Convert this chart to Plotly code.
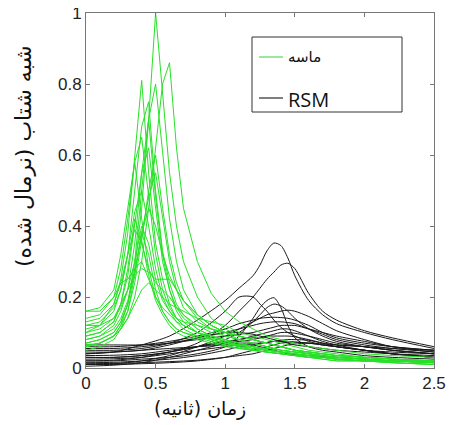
import plotly.graph_objects as go

# shared x grid (seconds) for the sand (green) curves
green_x = [0, 0.1, 0.2, 0.25, 0.3, 0.35, 0.4, 0.45, 0.5, 0.55, 0.6, 0.65, 0.7,
           0.8, 0.9, 1.0, 1.1, 1.2, 1.3, 1.4, 1.5, 1.6, 1.7, 1.8, 2.0, 2.2, 2.5]

g01 = [0.07,0.08,0.10,0.13,0.18,0.28,0.45,0.70,1.00,0.78,0.55,0.40,0.30,0.20,0.14,0.11,0.09,0.08,0.07,0.06,0.05,0.045,0.04,0.035,0.03,0.025,0.02]
g02 = [0.06,0.07,0.09,0.11,0.14,0.20,0.30,0.45,0.62,0.80,0.86,0.62,0.45,0.30,0.21,0.16,0.13,0.11,0.09,0.08,0.07,0.06,0.055,0.05,0.04,0.035,0.03]
g03 = [0.10,0.12,0.18,0.25,0.38,0.60,0.81,0.55,0.35,0.25,0.18,0.14,0.12,0.10,0.08,0.07,0.06,0.05,0.045,0.04,0.035,0.03,0.03,0.025,0.02,0.02,0.015]
g04 = [0.08,0.09,0.12,0.16,0.22,0.35,0.55,0.70,0.80,0.60,0.42,0.30,0.22,0.15,0.12,0.10,0.08,0.07,0.06,0.05,0.045,0.04,0.035,0.03,0.025,0.02,0.02]
g05 = [0.12,0.13,0.17,0.22,0.32,0.50,0.68,0.75,0.50,0.33,0.24,0.18,0.15,0.11,0.09,0.08,0.07,0.06,0.05,0.045,0.04,0.035,0.03,0.03,0.025,0.02,0.02]
g06 = [0.14,0.15,0.20,0.28,0.42,0.58,0.65,0.48,0.32,0.22,0.17,0.14,0.12,0.10,0.085,0.075,0.065,0.06,0.05,0.045,0.04,0.035,0.03,0.03,0.025,0.02,0.02]
g07 = [0.09,0.10,0.13,0.18,0.26,0.40,0.55,0.62,0.45,0.30,0.22,0.17,0.14,0.11,0.09,0.075,0.065,0.055,0.05,0.045,0.04,0.035,0.03,0.025,0.02,0.02,0.015]
g08 = [0.16,0.17,0.22,0.32,0.45,0.58,0.42,0.28,0.20,0.16,0.13,0.11,0.10,0.085,0.075,0.065,0.055,0.05,0.045,0.04,0.035,0.03,0.03,0.025,0.02,0.02,0.015]
g09 = [0.11,0.12,0.16,0.22,0.32,0.44,0.50,0.40,0.28,0.20,0.16,0.13,0.11,0.09,0.08,0.07,0.06,0.055,0.05,0.045,0.04,0.035,0.03,0.025,0.02,0.02,0.015]
g10 = [0.07,0.08,0.10,0.13,0.18,0.27,0.38,0.45,0.40,0.32,0.26,0.22,0.19,0.15,0.12,0.10,0.09,0.08,0.07,0.06,0.05,0.045,0.04,0.035,0.03,0.025,0.02]
g11 = [0.13,0.14,0.18,0.24,0.32,0.39,0.35,0.28,0.24,0.22,0.20,0.17,0.15,0.12,0.10,0.09,0.08,0.07,0.06,0.05,0.045,0.04,0.035,0.03,0.025,0.02,0.02]
g12 = [0.10,0.11,0.14,0.18,0.22,0.26,0.28,0.27,0.25,0.25,0.25,0.22,0.19,0.15,0.12,0.10,0.09,0.08,0.07,0.06,0.05,0.045,0.04,0.035,0.03,0.025,0.02]
g13 = [0.16,0.16,0.20,0.24,0.25,0.28,0.30,0.25,0.20,0.17,0.15,0.13,0.12,0.10,0.09,0.08,0.07,0.06,0.055,0.05,0.045,0.04,0.035,0.03,0.025,0.02,0.02]
g14 = [0.05,0.06,0.08,0.11,0.16,0.26,0.38,0.32,0.22,0.16,0.13,0.11,0.10,0.09,0.08,0.07,0.065,0.06,0.05,0.045,0.04,0.035,0.03,0.025,0.02,0.015,0.01]
g15 = [0.09,0.10,0.13,0.18,0.28,0.42,0.36,0.26,0.19,0.15,0.12,0.10,0.09,0.08,0.07,0.06,0.055,0.05,0.045,0.04,0.035,0.03,0.025,0.02,0.02,0.015,0.01]
g16 = [0.08,0.09,0.11,0.14,0.19,0.27,0.38,0.48,0.55,0.42,0.30,0.22,0.17,0.13,0.11,0.10,0.09,0.08,0.07,0.06,0.05,0.045,0.04,0.035,0.03,0.025,0.02]
g17 = [0.06,0.07,0.09,0.11,0.14,0.18,0.22,0.24,0.22,0.20,0.18,0.17,0.16,0.14,0.13,0.12,0.10,0.09,0.08,0.07,0.06,0.05,0.045,0.04,0.03,0.025,0.02]
g18 = [0.12,0.12,0.14,0.17,0.22,0.30,0.40,0.35,0.25,0.19,0.16,0.14,0.13,0.12,0.11,0.10,0.09,0.08,0.07,0.06,0.05,0.04,0.035,0.03,0.025,0.02,0.015]
g19 = [0.06,0.07,0.09,0.12,0.18,0.30,0.50,0.70,0.48,0.32,0.22,0.16,0.13,0.10,0.08,0.07,0.06,0.05,0.045,0.04,0.035,0.03,0.025,0.02,0.02,0.015,0.01]
g20 = [0.065,0.07,0.09,0.12,0.16,0.24,0.36,0.50,0.60,0.45,0.32,0.24,0.19,0.14,0.11,0.09,0.08,0.07,0.06,0.05,0.045,0.04,0.035,0.03,0.025,0.02,0.015]
green_series = [g01, g02, g03, g04, g05, g06, g07, g08, g09, g10,
                g11, g12, g13, g14, g15, g16, g17, g18, g19, g20]

# shared x grid (seconds) for the RSM (black) curves
black_x = [0, 0.2, 0.4, 0.6, 0.8, 1.0, 1.1, 1.2, 1.25, 1.3, 1.35, 1.4, 1.45,
           1.5, 1.6, 1.7, 1.8, 2.0, 2.2, 2.5]

b01 = [0.04,0.045,0.065,0.09,0.135,0.19,0.225,0.26,0.29,0.33,0.352,0.345,0.31,0.26,0.19,0.15,0.125,0.10,0.08,0.055]
b02 = [0.03,0.03,0.035,0.045,0.07,0.12,0.16,0.20,0.225,0.25,0.27,0.29,0.295,0.28,0.21,0.16,0.135,0.105,0.085,0.06]
b03 = [0.05,0.05,0.055,0.07,0.10,0.16,0.20,0.20,0.18,0.16,0.135,0.115,0.10,0.09,0.075,0.065,0.06,0.05,0.04,0.03]
b04 = [0.02,0.02,0.025,0.03,0.04,0.06,0.09,0.14,0.17,0.19,0.198,0.17,0.12,0.085,0.06,0.05,0.045,0.035,0.03,0.025]
b05 = [0.03,0.03,0.035,0.045,0.06,0.08,0.10,0.13,0.15,0.17,0.18,0.175,0.16,0.14,0.11,0.09,0.075,0.06,0.05,0.04]
b06 = [0.01,0.012,0.02,0.035,0.06,0.09,0.11,0.13,0.14,0.15,0.155,0.16,0.163,0.16,0.145,0.125,0.105,0.08,0.06,0.045]
b07 = [0.06,0.06,0.065,0.075,0.09,0.11,0.125,0.135,0.14,0.142,0.143,0.142,0.14,0.135,0.12,0.10,0.085,0.07,0.06,0.05]
b08 = [0.065,0.065,0.065,0.07,0.085,0.10,0.11,0.12,0.125,0.128,0.13,0.13,0.128,0.125,0.11,0.095,0.08,0.065,0.055,0.045]
b09 = [0.005,0.008,0.015,0.03,0.05,0.07,0.08,0.09,0.095,0.10,0.105,0.11,0.11,0.105,0.09,0.075,0.065,0.05,0.04,0.03]
b10 = [0.02,0.022,0.03,0.045,0.06,0.075,0.08,0.085,0.085,0.09,0.09,0.09,0.09,0.088,0.08,0.07,0.06,0.05,0.04,0.03]
b11 = [0.035,0.036,0.04,0.05,0.06,0.07,0.075,0.08,0.085,0.09,0.095,0.10,0.10,0.098,0.09,0.08,0.07,0.06,0.05,0.04]
b12 = [0.04,0.045,0.05,0.065,0.085,0.10,0.10,0.095,0.09,0.085,0.08,0.075,0.07,0.065,0.06,0.055,0.05,0.045,0.04,0.035]
b13 = [0.015,0.016,0.02,0.025,0.035,0.05,0.06,0.065,0.07,0.072,0.075,0.075,0.075,0.073,0.07,0.065,0.06,0.05,0.045,0.04]
b14 = [0.01,0.01,0.012,0.015,0.02,0.03,0.04,0.05,0.055,0.06,0.065,0.07,0.072,0.073,0.07,0.065,0.06,0.05,0.04,0.03]
b15 = [0.025,0.026,0.03,0.04,0.05,0.06,0.065,0.065,0.06,0.055,0.05,0.045,0.04,0.038,0.035,0.032,0.03,0.025,0.02,0.015]
b16 = [0.045,0.045,0.05,0.055,0.06,0.065,0.07,0.07,0.07,0.072,0.075,0.078,0.08,0.08,0.078,0.07,0.065,0.06,0.055,0.05]
b17 = [0.055,0.055,0.06,0.07,0.08,0.09,0.095,0.10,0.105,0.11,0.115,0.12,0.12,0.12,0.11,0.10,0.09,0.075,0.06,0.05]
b18 = [0.012,0.013,0.015,0.018,0.022,0.03,0.035,0.04,0.045,0.05,0.055,0.06,0.065,0.068,0.07,0.068,0.065,0.06,0.05,0.04]
black_series = [b01, b02, b03, b04, b05, b06, b07, b08, b09, b10,
                b11, b12, b13, b14, b15, b16, b17, b18]

x_ticks = [0, 0.5, 1, 1.5, 2, 2.5]
x_tick_labels = ["0", "0.5", "1", "1.5", "2", "2.5"]
y_ticks = [0, 0.2, 0.4, 0.6, 0.8, 1]
y_tick_labels = ["0", "0.2", "0.4", "0.6", "0.8", "1"]

legend_labels = ["ماسه", "RSM"]
x_title = "زمان (ثانیه)"
y_title = "شبه شتاب (نرمال شده)"

GREEN = "rgb(40,225,40)"
BLACK = "rgb(25,25,25)"

fig = go.Figure()
for ys in black_series:
    fig.add_trace(go.Scatter(x=black_x, y=ys, mode="lines", showlegend=False,
                             line=dict(color=BLACK, width=1, shape="spline", smoothing=0.8),
                             hoverinfo="skip"))
for ys in green_series:
    fig.add_trace(go.Scatter(x=green_x, y=ys, mode="lines", showlegend=False,
                             line=dict(color=GREEN, width=1), hoverinfo="skip"))

# the page body adds an 8px offset; work in screen pixels and convert
OFF = 8
W, H = 454 - OFF, 425 - OFF
PL, PR, PT, PB = 86, 434, 13, 368          # plot box in screen pixels
L, R, T = PL - OFF, W - (PR - OFF), PT - OFF
B = H - (PB - OFF)
pw, ph = W - L - R, H - T - B

def px(xs):
    return (xs - OFF - L) / pw

def py(ys):
    return (H - B - (ys - OFF)) / ph

axis_common = dict(showline=True, linecolor="#777777", linewidth=1, mirror="ticks",
                   ticks="inside", ticklen=4, tickcolor="#777777", showgrid=False,
                   zeroline=False, automargin=False, ticklabeloverflow="allow",
                   tickfont=dict(family="Liberation Sans, Arial, sans-serif", size=17, color="#222222"))

fig.update_layout(
    width=W, height=H,
    margin=dict(l=L, r=R, t=T, b=B, autoexpand=False),
    paper_bgcolor="white", plot_bgcolor="white",
    xaxis=dict(range=[0, 2.5], tickvals=x_ticks, ticktext=x_tick_labels, **axis_common),
    yaxis=dict(range=[0, 1], tickvals=y_ticks, ticktext=y_tick_labels, **axis_common),
    showlegend=False,
)

# legend box drawn manually
fig.add_shape(type="rect", xref="paper", yref="paper",
              x0=px(252), x1=px(402), y0=py(112), y1=py(37),
              line=dict(color="#333333", width=1), fillcolor="white", layer="above")
fig.add_shape(type="line", xref="paper", yref="paper",
              x0=px(259), x1=px(283), y0=py(57), y1=py(57),
              line=dict(color="rgb(120,225,120)", width=1.5), layer="above")
fig.add_shape(type="line", xref="paper", yref="paper",
              x0=px(259), x1=px(283), y0=py(98), y1=py(98),
              line=dict(color="#555555", width=1.5), layer="above")
fig.add_annotation(xref="paper", yref="paper", x=px(286), y=py(57),
                   text=legend_labels[0], showarrow=False, xanchor="left", yanchor="middle",
                   font=dict(family="DejaVu Sans, sans-serif", size=15, color="#111111"))
fig.add_annotation(xref="paper", yref="paper", x=px(286), y=py(99),
                   text=legend_labels[1], showarrow=False, xanchor="left", yanchor="middle",
                   font=dict(family="Open Sans, Liberation Sans, sans-serif", size=20, color="#111111"))

# axis titles
fig.add_annotation(xref="paper", yref="paper", x=px(200), y=py(408),
                   text=x_title, showarrow=False, xanchor="center", yanchor="middle",
                   font=dict(family="DejaVu Sans, sans-serif", size=19, color="#111111"))
fig.add_annotation(xref="paper", yref="paper", x=px(23), y=py(156),
                   text=y_title, showarrow=False, textangle=-90, xanchor="center", yanchor="middle",
                   font=dict(family="DejaVu Sans, sans-serif", size=22, color="#111111"))

fig.write_html("out.html")
